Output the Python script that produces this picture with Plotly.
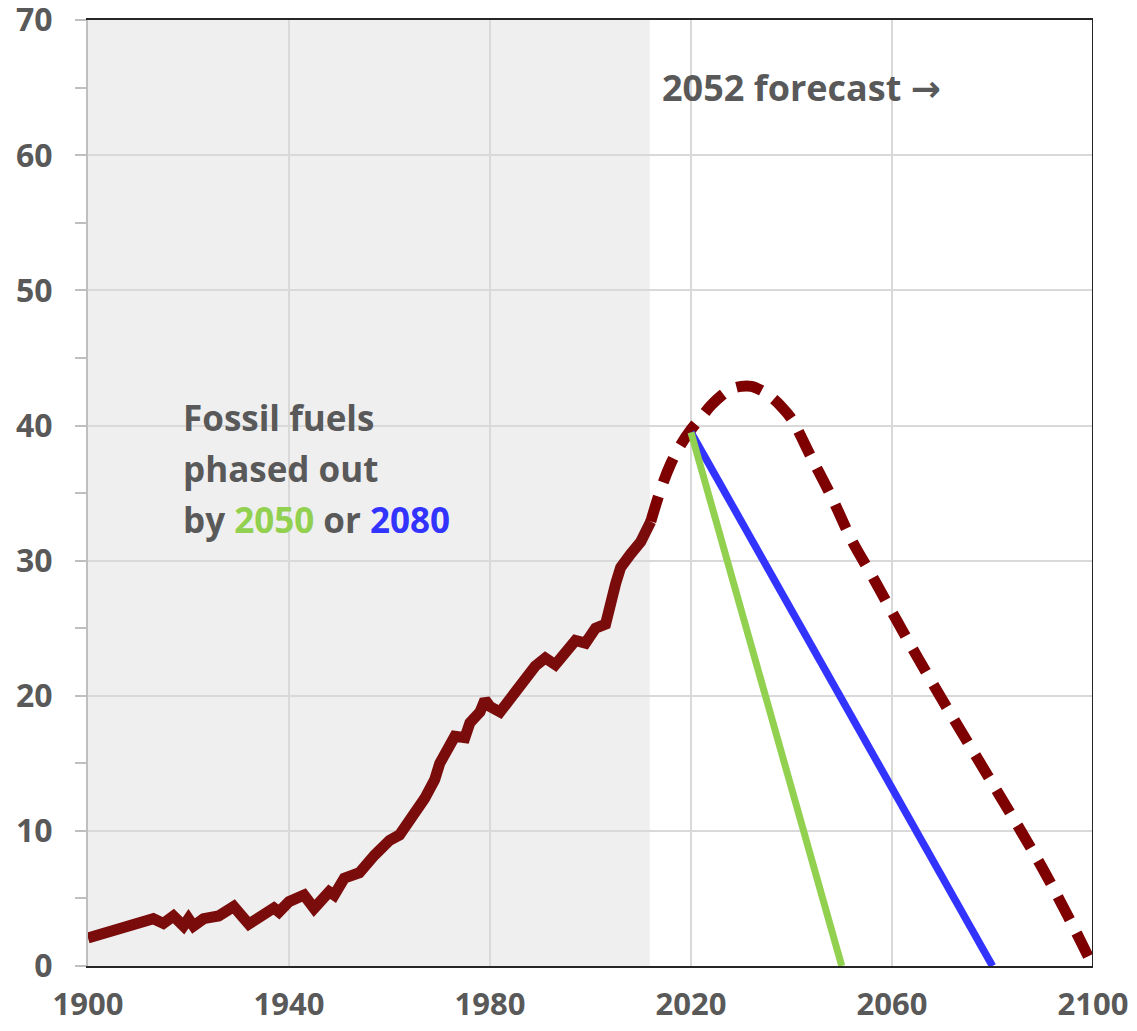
import plotly.graph_objects as go

# Historical emissions (solid)
hist_years = [1900, 1902, 1904, 1906, 1907, 1909, 1911, 1913, 1915, 1917, 1919, 1920,
              1921, 1923, 1926, 1929, 1932, 1935, 1937, 1938, 1940, 1943, 1945, 1948,
              1949, 1951, 1954, 1957, 1960, 1962, 1965, 1967, 1969, 1970, 1973, 1975,
              1976, 1978, 1979, 1980, 1982, 1985, 1989, 1991, 1993, 1997, 1999, 2001,
              2003, 2005, 2006, 2008, 2010, 2012]
hist_vals = [2.07, 2.3, 2.45, 2.8, 2.75, 2.95, 3.2, 3.5, 3.15, 3.7, 2.96, 3.5,
             2.96, 3.5, 3.7, 4.4, 3.1, 3.9, 4.3, 4.0, 4.76, 5.25, 4.27, 5.5,
             5.25, 6.5, 6.9, 8.2, 9.3, 9.7, 11.3, 12.4, 13.8, 15.0, 17.0, 16.9,
             18.0, 18.8, 19.7, 19.2, 18.8, 20.4, 22.2, 22.8, 22.3, 24.1, 23.9, 25.0,
             25.3, 28.3, 29.5, 30.5, 31.4, 32.9]

# 2052 forecast (dashed)
fc_years = [2012, 2014, 2016, 2018, 2020, 2022, 2024, 2026, 2028, 2030, 2032, 2034,
            2036, 2038, 2040, 2044, 2048, 2052, 2056, 2060, 2065, 2070, 2075, 2080,
            2085, 2090, 2095, 2100]
fc_vals = [32.9, 35.3, 37.2, 38.6, 39.7, 40.6, 41.5, 42.2, 42.7, 42.9, 42.9, 42.6,
           42.1, 41.4, 40.5, 37.6, 34.7, 31.5, 28.9, 26.2, 22.9, 19.7, 16.6, 13.5,
           10.4, 7.2, 3.7, 0.0]

# Phase-out paths
green_years = [2020, 2050]
green_vals = [39.5, 0]
blue_years = [2020, 2080]
blue_vals = [39.5, 0]

x_ticks = [1900, 1940, 1980, 2020, 2060, 2100]
y_ticks = [0, 10, 20, 30, 40, 50, 60, 70]

FONT = "Open Sans"
GREY = "#595959"
Y_TOP = 70.02

fig = go.Figure()
fig.add_trace(go.Scatter(x=hist_years, y=hist_vals, mode="lines",
                         line=dict(color="#7b0c0c", width=11), hoverinfo="skip"))
fig.add_trace(go.Scatter(x=fc_years, y=fc_vals, mode="lines",
                         line=dict(color="#7f0000", width=11, dash="26px,15px", shape="spline"),
                         hoverinfo="skip"))
fig.add_trace(go.Scatter(x=blue_years, y=blue_vals, mode="lines",
                         line=dict(color="#3333ff", width=7.5), hoverinfo="skip"))
fig.add_trace(go.Scatter(x=green_years, y=green_vals, mode="lines",
                         line=dict(color="#92d050", width=7), hoverinfo="skip"))

# shaded historical region
fig.add_shape(type="rect", xref="x", yref="y", x0=1900, x1=2011.8, y0=0, y1=Y_TOP,
              fillcolor="#efefef", line=dict(width=0), layer="below")
# right border
fig.add_shape(type="line", xref="x", yref="y", x0=2100, x1=2100, y0=0, y1=Y_TOP,
              line=dict(color="#262626", width=2))

fig.add_annotation(x=2013.8, y=65.0, xref="x", yref="y",
                   text="<b>2052 forecast <span style='font-family:DejaVu Sans'>→</span></b>",
                   showarrow=False, xanchor="left", yanchor="middle",
                   font=dict(family=FONT, size=36, color=GREY))
fig.add_annotation(x=1918.5, y=40.6, text="<b>Fossil fuels</b>", showarrow=False,
                   xanchor="left", yanchor="middle", font=dict(family=FONT, size=35, color=GREY))
fig.add_annotation(x=1918.5, y=36.85, text="<b>phased out</b>", showarrow=False,
                   xanchor="left", yanchor="middle", font=dict(family=FONT, size=35, color=GREY))
fig.add_annotation(x=1918.5, y=33.08,
                   text="<b>by <span style='color:#92d050'>2050</span> or "
                        "<span style='color:#3333ff'>2080</span></b>",
                   showarrow=False, xanchor="left", yanchor="middle",
                   font=dict(family=FONT, size=35, color=GREY))

# The page body has an 8px margin, so the figure is sized/offset to compensate.
fig.update_layout(
    width=1121, height=1015,
    margin=dict(l=80, r=36, t=12, b=57),
    paper_bgcolor="white", plot_bgcolor="rgba(0,0,0,0)",
    showlegend=False,
    font=dict(family=FONT, color=GREY),
)
fig.update_xaxes(range=[1900, 2100], tickvals=x_ticks, ticktext=[str(v) for v in x_ticks],
                 showgrid=True, gridcolor="#d9d9d9", gridwidth=2,
                 showline=True, linecolor="#262626", linewidth=2, mirror=True,
                 ticks="", ticklabelstandoff=10, zeroline=False, automargin=False,
                 ticklabeloverflow="allow",
                 tickfont=dict(family=FONT, size=31, color=GREY, weight="bold"))
fig.update_yaxes(range=[0, Y_TOP], tickvals=y_ticks, ticktext=[str(v) for v in y_ticks],
                 showgrid=True, gridcolor="#d9d9d9", gridwidth=2,
                 showline=True, linecolor="#bfbfbf", linewidth=2,
                 ticks="outside", ticklen=11, tickcolor="#bfbfbf", tickwidth=2,
                 minor=dict(dtick=5, ticks="outside", ticklen=11, tickcolor="#bfbfbf",
                            tickwidth=2, showgrid=False),
                 ticklabelstandoff=16, zeroline=False, automargin=False,
                 ticklabeloverflow="allow",
                 tickfont=dict(family=FONT, size=32, color=GREY, weight="bold"))

fig.write_html("out.html")
